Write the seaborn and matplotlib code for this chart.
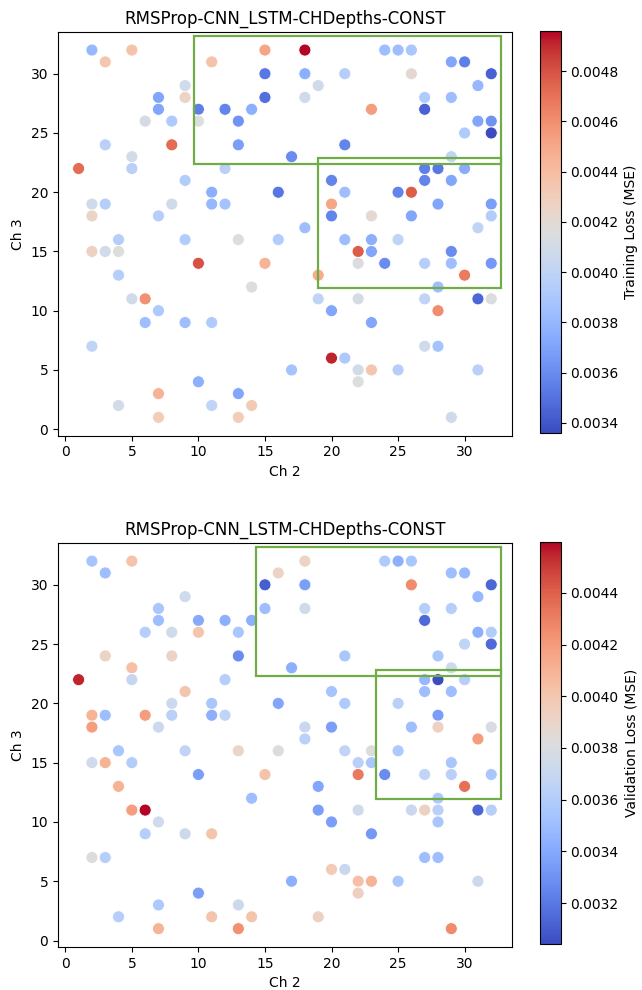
import matplotlib
matplotlib.use("Agg")
import matplotlib.pyplot as plt
from matplotlib.patches import Rectangle
from matplotlib.colors import Normalize
from matplotlib.cm import ScalarMappable
import seaborn as sns
import pandas as pd

title = "RMSProp-CNN_LSTM-CHDepths-CONST"

# training run: (Ch 2, Ch 3) -> training loss
ch2_train = [2, 5, 3, 15, 11, 15, 9, 7, 9, 15, 7, 10, 12, 14, 6, 8, 10, 13, 3, 8,
             13, 5, 1, 5, 12, 9, 11, 16, 2, 3, 8, 11, 12, 2, 7, 4, 9, 13, 16, 18,
             24, 25, 26, 29, 30, 18, 21, 26, 32, 19, 31, 18, 27, 29, 23, 27, 31, 32, 30, 32,
             21, 17, 29, 27, 28, 30, 20, 27, 29, 21, 25, 26, 20, 28, 32, 20, 23, 26, 32, 18,
             31, 21, 23, 25, 2, 3, 4, 10, 15, 4, 14, 5, 6, 7, 6, 9, 11, 2, 10, 7,
             13, 4, 11, 14, 7, 13, 22, 23, 29, 22, 24, 27, 29, 32, 19, 30, 28, 19, 22, 27,
             31, 32, 20, 28, 23, 27, 28, 20, 21, 17, 22, 23, 25, 31, 22, 29]
ch3_train = [32, 32, 31, 32, 31, 30, 29, 28, 28, 28, 27, 27, 27, 27, 26, 26, 26, 26, 24, 24,
             24, 23, 22, 22, 22, 21, 20, 20, 19, 19, 19, 19, 19, 18, 18, 16, 16, 16, 16, 32,
             32, 32, 32, 31, 31, 30, 30, 30, 30, 29, 29, 28, 28, 28, 27, 27, 26, 26, 25, 25,
             24, 23, 23, 22, 22, 22, 21, 21, 21, 20, 20, 20, 19, 19, 19, 18, 18, 18, 18, 17,
             17, 16, 16, 16, 15, 15, 15, 14, 14, 13, 12, 11, 11, 10, 9, 9, 9, 7, 4, 3,
             3, 2, 2, 2, 1, 1, 15, 15, 15, 14, 14, 14, 14, 14, 13, 13, 12, 11, 11, 11,
             11, 11, 10, 10, 9, 7, 7, 6, 6, 5, 5, 5, 5, 5, 4, 1]
loss_train = [0.003808, 0.004368, 0.004352, 0.004512, 0.004368, 0.00352, 0.00408, 0.003712, 0.004256, 0.003488,
              0.003712, 0.003552, 0.003568, 0.00376, 0.004112, 0.00392, 0.00416, 0.003632, 0.003968, 0.00472,
              0.00368, 0.004096, 0.00472, 0.003968, 0.003968, 0.003936, 0.00376, 0.00352, 0.00408, 0.003952,
              0.00408, 0.003808, 0.003872, 0.004256, 0.003952, 0.003952, 0.003936, 0.00416, 0.003936, 0.00496,
              0.00384, 0.00384, 0.003888, 0.003712, 0.003552, 0.00376, 0.003952, 0.004208, 0.00344, 0.00408,
              0.003808, 0.00408, 0.00392, 0.00384, 0.004544, 0.00344, 0.003712, 0.003632, 0.00392, 0.00336,
              0.003568, 0.0036, 0.004, 0.003552, 0.00352, 0.003744, 0.003568, 0.003568, 0.003712, 0.00384,
              0.003568, 0.004768, 0.004512, 0.003712, 0.00368, 0.003568, 0.004208, 0.003712, 0.003936, 0.00384,
              0.004, 0.00384, 0.00376, 0.004, 0.004272, 0.004096, 0.00416, 0.0048, 0.004448, 0.003952,
              0.00416, 0.00408, 0.004592, 0.003904, 0.00384, 0.00384, 0.00392, 0.004, 0.00376, 0.004448,
              0.003712, 0.004096, 0.004, 0.00432, 0.004304, 0.004304, 0.004768, 0.003712, 0.0036, 0.004144,
              0.0036, 0.003952, 0.00384, 0.003648, 0.00448, 0.004672, 0.00384, 0.004, 0.004112, 0.004,
              0.003456, 0.004144, 0.003712, 0.004608, 0.003712, 0.00408, 0.003872, 0.004912, 0.003904, 0.003872,
              0.004096, 0.004352, 0.003952, 0.003968, 0.00416, 0.00408]

# validation run: (Ch 2, Ch 3) -> validation loss
ch2_val = [2, 5, 3, 15, 16, 9, 7, 15, 7, 10, 12, 14, 6, 8, 10, 13, 3, 8, 13, 5,
           1, 5, 12, 9, 8, 11, 16, 2, 3, 6, 8, 11, 12, 2, 7, 4, 9, 13, 16, 2,
           3, 5, 10, 15, 4, 14, 5, 6, 7, 6, 9, 11, 2, 3, 10, 7, 13, 4, 11, 14,
           7, 13, 18, 24, 25, 26, 29, 30, 18, 26, 32, 31, 18, 27, 29, 27, 31, 32, 30, 32,
           21, 28, 17, 29, 27, 28, 30, 20, 27, 29, 21, 25, 28, 18, 20, 26, 28, 32, 18, 31,
           21, 23, 25, 22, 23, 29, 22, 24, 27, 29, 32, 19, 30, 28, 19, 22, 26, 27, 28, 31,
           32, 20, 28, 23, 27, 28, 20, 21, 17, 22, 23, 25, 31, 22, 19, 29]
ch3_val = [32, 32, 31, 30, 31, 29, 28, 28, 27, 27, 27, 27, 26, 26, 26, 26, 24, 24, 24, 23,
           22, 22, 22, 21, 20, 20, 20, 19, 19, 19, 19, 19, 19, 18, 18, 16, 16, 16, 16, 15,
           15, 15, 14, 14, 13, 12, 11, 11, 10, 9, 9, 9, 7, 7, 4, 3, 3, 2, 2, 2,
           1, 1, 32, 32, 32, 32, 31, 31, 30, 30, 30, 29, 28, 28, 28, 27, 26, 26, 25, 25,
           24, 24, 23, 23, 22, 22, 22, 21, 21, 21, 20, 20, 19, 18, 18, 18, 18, 18, 17, 17,
           16, 16, 16, 15, 15, 15, 14, 14, 14, 14, 14, 13, 13, 12, 11, 11, 11, 11, 11, 11,
           11, 10, 10, 9, 7, 7, 6, 6, 5, 5, 5, 5, 5, 4, 2, 1]
loss_val = [0.003539, 0.004023, 0.003508, 0.003102, 0.003914, 0.003742, 0.003555, 0.003508, 0.003508, 0.003399,
            0.00343, 0.00343, 0.003617, 0.003742, 0.004007, 0.003555, 0.003914, 0.003914, 0.003274, 0.004038,
            0.004553, 0.003695, 0.003617, 0.004007, 0.003726, 0.003555, 0.003383, 0.004101, 0.003508, 0.004194,
            0.003633, 0.00343, 0.003664, 0.004194, 0.003726, 0.003555, 0.003664, 0.003898, 0.00382, 0.003742,
            0.004101, 0.003602, 0.003352, 0.004023, 0.004101, 0.003508, 0.004194, 0.004596, 0.003742, 0.003617,
            0.003726, 0.004007, 0.00382, 0.003617, 0.003352, 0.00357, 0.003726, 0.003617, 0.004007, 0.004007,
            0.004101, 0.004241, 0.003914, 0.003586, 0.00343, 0.003555, 0.003508, 0.003477, 0.003352, 0.004257,
            0.003134, 0.003477, 0.003742, 0.003617, 0.003617, 0.003149, 0.00343, 0.003602, 0.003664, 0.003149,
            0.003555, 0.003555, 0.00343, 0.003742, 0.003477, 0.00304, 0.003617, 0.003539, 0.003508, 0.003508,
            0.003586, 0.003633, 0.003352, 0.003711, 0.003352, 0.003508, 0.003929, 0.003789, 0.003633, 0.004194,
            0.003664, 0.00382, 0.00357, 0.003633, 0.003555, 0.003555, 0.004319, 0.003274, 0.003664, 0.003633,
            0.003555, 0.003383, 0.00435, 0.00357, 0.003352, 0.003742, 0.003711, 0.003929, 0.003633, 0.003134,
            0.003617, 0.003352, 0.003555, 0.003321, 0.003508, 0.003508, 0.003976, 0.003711, 0.00343, 0.004038,
            0.004101, 0.003555, 0.003726, 0.003945, 0.003929, 0.004257]

# highlighted regions, (x0, y0, x1, y1) in data units
boxes_train = [(9.7, 22.4, 32.7, 33.2), (19.0, 11.9, 32.7, 22.9)]
boxes_val = [(14.3, 22.3, 32.7, 33.2), (23.35, 11.9, 32.7, 22.85)]


def panel(ax, cax, ch2, ch3, loss, boxes, cbar_label):
    df = pd.DataFrame({"Ch 2": ch2, "Ch 3": ch3, "loss": loss})
    norm = Normalize(df["loss"].min(), df["loss"].max())
    sns.scatterplot(data=df, x="Ch 2", y="Ch 3", hue="loss", palette="coolwarm",
                    hue_norm=norm, s=75, edgecolor="white", linewidth=0.6,
                    legend=False, ax=ax)
    for x0, y0, x1, y1 in boxes:
        ax.add_patch(Rectangle((x0, y0), x1 - x0, y1 - y0, fill=False,
                               edgecolor="#70ad47", linewidth=1.6))
    ax.set_xlim(-0.55, 33.55)
    ax.set_ylim(-0.55, 33.55)
    ax.set_xticks([0, 5, 10, 15, 20, 25, 30])
    ax.set_yticks([0, 5, 10, 15, 20, 25, 30])
    ax.set_title(title, fontsize=12)
    sm = ScalarMappable(norm=norm, cmap="coolwarm")
    cb = plt.colorbar(sm, cax=cax)
    cb.set_label(cbar_label)


fig = plt.figure(figsize=(6.42, 9.9), dpi=100)
ax1 = fig.add_axes([0.0903, 0.5599, 0.707, 0.4081])
cax1 = fig.add_axes([0.841, 0.5626, 0.0322, 0.4061])
ax2 = fig.add_axes([0.0903, 0.0434, 0.707, 0.4084])
cax2 = fig.add_axes([0.841, 0.0461, 0.0322, 0.4061])

panel(ax1, cax1, ch2_train, ch3_train, loss_train, boxes_train, "Training Loss (MSE)")
panel(ax2, cax2, ch2_val, ch3_val, loss_val, boxes_val, "Validation Loss (MSE)")

fig.savefig("out.png", dpi=100)
